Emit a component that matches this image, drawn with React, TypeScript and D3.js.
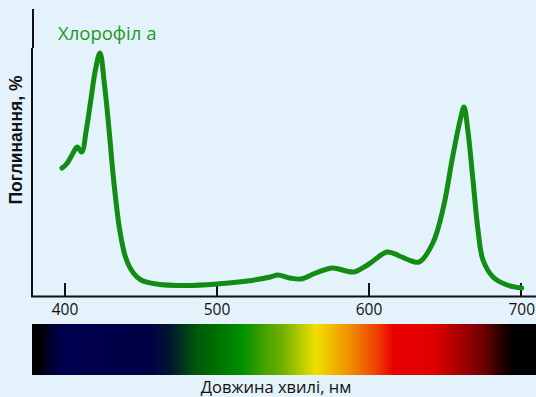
import React from "react";
import * as d3 from "d3";

const wavelengths = [398, 401, 405, 408, 411, 414, 417, 420, 423, 426, 429, 432, 436, 440, 445, 450, 460, 480, 500, 520, 535, 540, 548, 555, 565, 576, 585, 590, 600, 612, 620, 628, 633, 642, 649, 655, 660, 662.5, 665, 668.4, 671.7, 675, 681.6, 690.8, 700.5];
const absorbance = [51.2, 52.8, 56.8, 59.6, 57.6, 66.4, 78.4, 90.4, 97.2, 84.4, 66.4, 46.4, 26.4, 15.2, 9.2, 6.4, 4.8, 4.2, 4.8, 6, 7.6, 8.4, 7.2, 6.8, 9.2, 11.2, 10, 9.6, 12.8, 17.6, 16, 14, 13.6, 21.2, 35.6, 55.6, 70.4, 75.6, 66.4, 46.4, 26.4, 14.4, 7.6, 4.4, 3.2];
const xTicks = [400, 500, 600, 700];
const spectrumStops: [number, string][] = [
  [379, "#000000"], [384, "#000008"], [392, "#000035"], [399, "#000050"], [456, "#000045"],
  [469, "#001530"], [487, "#005a08"], [500, "#007000"], [517, "#009000"], [530, "#40a000"],
  [543, "#70b000"], [565, "#f0e000"], [587, "#f09000"], [605, "#ee4000"], [616, "#e80000"],
  [642, "#e00000"], [657, "#b00000"], [675, "#700000"], [688, "#200000"], [695, "#000000"],
  [710, "#000000"],
];
const title = "Хлорофіл а";
const yLabel = "Поглинання, %";
const xLabel = "Довжина хвилі, нм";

export default function App() {
  const W = 536, H = 397;
  const x = d3.scaleLinear().domain([400, 700]).range([65, 521]);
  const y = d3.scaleLinear().domain([0, 100]).range([296, 46]);
  const line = d3.line<number>()
    .x((_, i) => x(wavelengths[i]))
    .y((d) => y(d))
    .curve(d3.curveCatmullRom.alpha(0.5));
  const barX0 = 32, barX1 = 536;
  return (
    <svg width={W} height={H} style={{ position: "absolute", left: 0, top: 0, display: "block" }}>
      <defs>
        <linearGradient id="spec" gradientUnits="userSpaceOnUse" x1={barX0} x2={barX1} y1={0} y2={0}>
          {spectrumStops.map(([w, c], i) => (
            <stop key={i} offset={Math.max(0, Math.min(1, (x(w) - barX0) / (barX1 - barX0)))} stopColor={c} />
          ))}
        </linearGradient>
      </defs>
      <rect x={0} y={0} width={W} height={H} fill="#e4f2fb" />
      <line x1={33} x2={33} y1={9} y2={48} stroke="#111" strokeWidth={2} />
      <line x1={32} x2={32} y1={48} y2={297} stroke="#111" strokeWidth={2} />
      <line x1={31} x2={536} y1={296.5} y2={296.5} stroke="#111" strokeWidth={2} />
      {xTicks.map((t) => (
        <g key={t}>
          <line x1={x(t)} x2={x(t)} y1={283} y2={296} stroke="#111" strokeWidth={2} />
          <text x={t === 700 ? 535 : x(t)} y={315} textAnchor={t === 700 ? "end" : "middle"} fontFamily="'Open Sans', sans-serif" fontSize={15.5} fill="#111">{t}</text>
        </g>
      ))}
      <path d={line(absorbance) || ""} fill="none" stroke="#128c12" strokeWidth={5} strokeLinejoin="round" strokeLinecap="round" />
      <text x={58} y={40} fontFamily="'Open Sans', sans-serif" fontSize={18.5} fill="#1a9a1a">{title}</text>
      <text transform="translate(22,140) rotate(-90)" textAnchor="middle" fontFamily="'Liberation Sans', Arial, sans-serif" fontWeight="bold" fontSize={17.5} fill="#111">{yLabel}</text>
      <rect x={barX0} y={324} width={barX1 - barX0} height={51} fill="url(#spec)" />
      <text x={276} y={393} textAnchor="middle" fontFamily="'Open Sans', sans-serif" fontSize={16.5} fill="#111">{xLabel}</text>
    </svg>
  );
}
